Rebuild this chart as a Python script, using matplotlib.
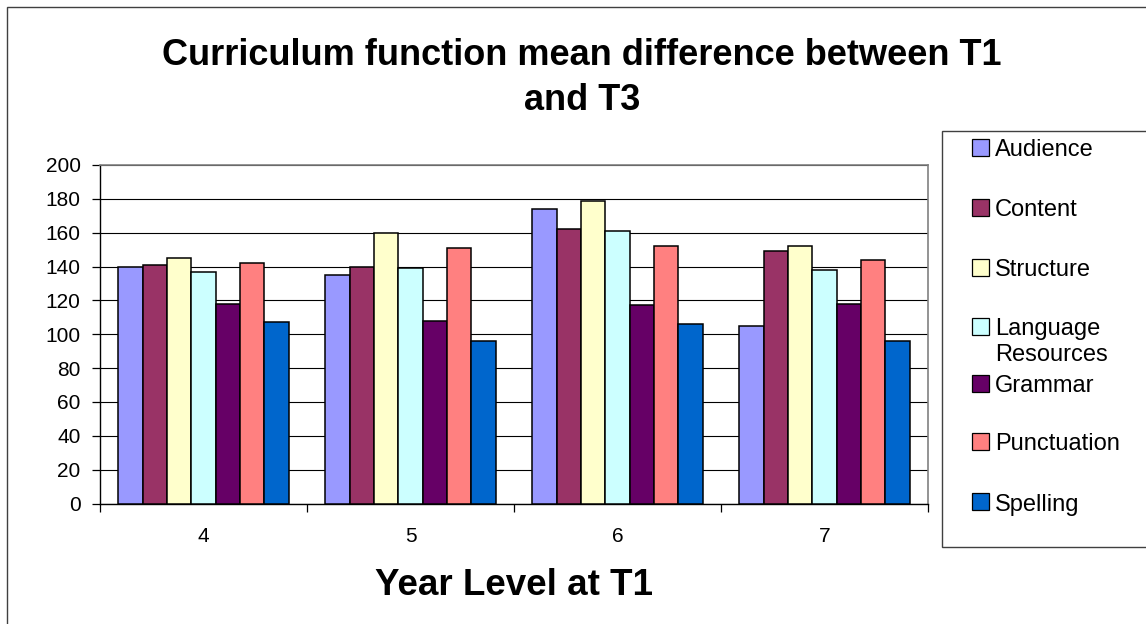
import matplotlib
matplotlib.use("Agg")
import matplotlib.pyplot as plt
from matplotlib.patches import Rectangle
import numpy as np

plt.rcParams['font.family'] = ['Liberation Sans', 'DejaVu Sans']

# ---- data ----
categories = ["4", "5", "6", "7"]
series_names = ["Audience", "Content", "Structure", "Language Resources",
                "Grammar", "Punctuation", "Spelling"]
audience = [140, 135, 174, 105]
content = [141, 140, 162, 149]
structure = [145, 160, 179, 152]
language_resources = [137, 139, 161, 138]
grammar = [118, 108, 117, 118]
punctuation = [142, 151, 152, 144]
spelling = [107, 96, 106, 96]
series_values = [audience, content, structure, language_resources,
                 grammar, punctuation, spelling]
colors = ["#9999FF", "#993366", "#FFFFCC", "#CCFFFF", "#660066", "#FF8080", "#0066CC"]
y_ticks = list(range(0, 201, 20))
title_lines = ["Curriculum function mean difference between T1", "and T3"]
x_label = "Year Level at T1"

W, H = 1146, 624
fig = plt.figure(figsize=(W / 100, H / 100), dpi=100)

def fx(px):
    return px / W

def fy(py):
    return 1 - py / H

# outer chart border
fig.patches.append(Rectangle((fx(7), fy(640)), fx(1160) - fx(7), fy(7) - fy(640),
                             transform=fig.transFigure, fill=False,
                             edgecolor="#404040", linewidth=1.0))

ax = fig.add_axes([fx(100), fy(503.5), fx(928) - fx(100), fy(165) - fy(503.5)])

n_series = len(series_values)
bar_w = 1 / (n_series + 1.5)
x = np.arange(len(categories))
for i, (name, vals, c) in enumerate(zip(series_names, series_values, colors)):
    offs = (i - (n_series - 1) / 2) * bar_w
    ax.bar(x + offs, vals, width=bar_w, color=c, edgecolor="black",
           linewidth=1.1, label=name, zorder=3)

ax.set_xlim(-0.5, len(categories) - 0.5)
ax.set_ylim(0, 200)
ax.set_yticks(y_ticks)
ax.set_yticklabels([str(v) for v in y_ticks], fontsize=15)
ax.yaxis.grid(True, color="black", linewidth=0.8, zorder=0)
ax.set_axisbelow(True)

# category boundaries for ticks, labels at centers
ax.set_xticks(np.arange(len(categories) + 1) - 0.5)
ax.set_xticklabels([])
ax.set_xticks(x, minor=True)
ax.set_xticklabels(categories, minor=True, fontsize=15)
ax.tick_params(axis="x", which="major", direction="out", length=6, width=0.9, color="black")
ax.tick_params(axis="x", which="minor", length=0, pad=17)
ax.tick_params(axis="y", direction="out", length=6, width=0.9, pad=8)

for s in ["left", "bottom"]:
    ax.spines[s].set_color("black")
    ax.spines[s].set_linewidth(1.0)
for s in ["top", "right"]:
    ax.spines[s].set_color("#808080")
    ax.spines[s].set_linewidth(1.2)

# title and axis label
fig.text(fx(582), fy(65), title_lines[0], ha="center", va="baseline",
         fontsize=26, fontweight="bold")
fig.text(fx(582), fy(110), title_lines[1], ha="center", va="baseline",
         fontsize=26, fontweight="bold")
fig.text(fx(514), fy(595), x_label, ha="center", va="baseline",
         fontsize=26.5, fontweight="bold")

# legend box
fig.patches.append(Rectangle((fx(942), fy(547)), fx(1160) - fx(942), fy(131) - fy(547),
                             transform=fig.transFigure, fill=True, facecolor="white",
                             edgecolor="#404040", linewidth=1.0, zorder=5))
row_centers = [148, 208, 268, 327, 383.5, 441.5, 502]
line_step = 25.5
for name, c, yc in zip(series_names, colors, row_centers):
    fig.patches.append(Rectangle((fx(971.5), fy(yc + 8)), fx(17), 17 / H,
                                 transform=fig.transFigure, facecolor=c,
                                 edgecolor="black", linewidth=0.9, zorder=6))
    lines = name.split(" ") if len(name) > 12 else [name]
    for k, ln in enumerate(lines):
        fig.text(fx(995), fy(yc + 8.5 + k * line_step), ln, ha="left", va="baseline",
                 fontsize=17, zorder=7)

fig.savefig("out.png", dpi=100)
